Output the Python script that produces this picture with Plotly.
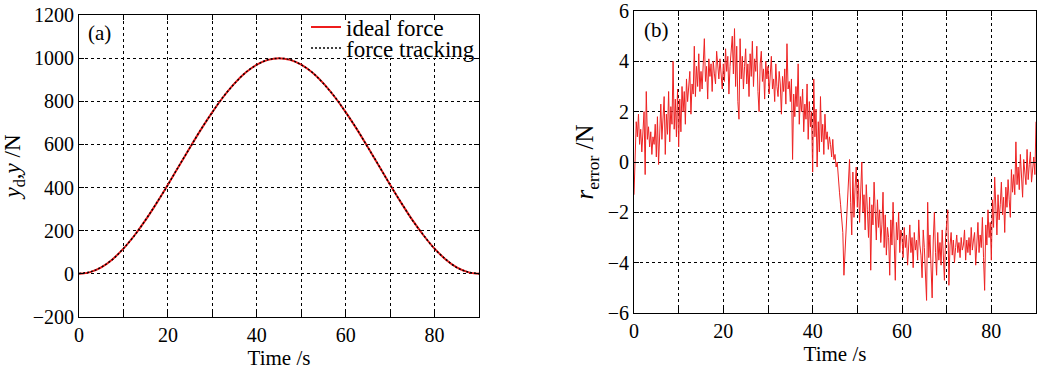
import numpy as np
import plotly.graph_objects as go

# ---------------- data ----------------
# (a) force curves, read every 2.5 s
t_a = [0, 2.5, 5, 7.5, 10, 12.5, 15, 17.5, 20, 22.5, 25, 27.5, 30, 32.5, 35, 37.5, 40, 42.5, 45,
       47.5, 50, 52.5, 55, 57.5, 60, 62.5, 65, 67.5, 70, 72.5, 75, 77.5, 80, 82.5, 85, 87.5, 90]
ideal_force = [0, 8, 30, 67, 117, 179, 250, 329, 413, 500, 587, 671, 750, 821, 883, 933, 970, 992, 1000,
               992, 970, 933, 883, 821, 750, 671, 587, 500, 413, 329, 250, 179, 117, 67, 30, 8, 0]
force_tracking = [2, 9, 31, 66, 118, 178, 251, 330, 412, 501, 586, 672, 749, 822, 882, 934, 969, 993, 999,
                  993, 969, 934, 882, 822, 749, 672, 586, 501, 412, 330, 249, 180, 116, 68, 29, 9, 1]

# (b) tracking error, read every 0.25 s
r_error = [
    -1.3, 0.8, 1.6, 1.0, 1.9, 0.7, 1.3, 0.4, 1.5, 2.0, -0.5, 2.8, 0.9, 1.4, 0.6, 1.2, 0.3, 1.0, 0.7, 1.5,
    0.2, 1.8, -0.1, 1.2, 2.3, 0.9, 1.6, 2.6, 0.3, 1.9, 1.1, 2.8, 0.8, 2.2, 1.5, 4.0, 1.3, 2.5, 1.0, 2.9,
    0.6, 2.5, 1.2, 3.0, 2.0, 2.8, 1.5, 3.3, 2.4, 2.9, 3.6, 1.9, 3.1, 2.7, 4.6, 2.6, 3.8, 3.0, 4.3, 2.8,
    3.6, 2.9, 4.0, 4.9, 3.2, 3.8, 2.5, 4.1, 3.4, 3.9, 2.8, 4.0, 3.5, 3.1, 4.4, 3.7, 3.3, 4.1, 3.6, 2.9,
    3.9, 3.2, 4.5, 3.6, 4.2, 2.7, 3.8, 4.4, 5.0, 3.5, 5.3, 3.0, 4.6, 2.4, 1.7, 4.9, 3.3, 4.2, 2.9, 3.8,
    4.5, 3.1, 3.9, 2.6, 4.3, 3.4, 4.8, 3.0, 4.1, 3.6, 4.6, 2.8, 2.0, 3.9, 4.4, 3.2, 3.7, 2.5, 4.0, 3.3,
    3.8, 2.7, 3.5, 4.2, 2.9, 3.3, 2.4, 3.9, 3.0, 2.6, 3.6, 3.1, 1.9, 3.4, 2.8, 3.7, 2.3, 4.7, 2.9, 3.2,
    2.4, 3.3, 0.1, 2.7, 1.8, 3.0, 2.2, 3.9, 1.5, 2.6, 2.0, 2.9, 1.2, 2.3, 1.7, 3.1, 0.9, 2.4, 1.4, 2.0,
    -0.4, 3.3, 1.0, 2.1, -0.2, 1.6, 0.4, 2.6, 0.8, 1.5, 0.3, 1.9, 0.9, 1.2, 0.5, 1.0, 0.7, 0.2, 0.9, 0.1,
    0.3, -0.2, 0.0, -0.8, -1.2, -1.7, -2.3, -2.8, -4.5, -3.6, -2.7, -2.0, -0.9, 0.1, -1.6, -2.9, -0.4, -2.2, -1.0, -0.2,
    -1.8, -0.7, -2.4, -1.1, 0.0, -2.0, -1.3, -2.7, -0.9, -1.9, -3.0, -1.4, -4.3, -1.7, -2.5, -0.8, -2.2, -3.1, -1.5, -2.6,
    -1.9, -3.2, -2.5, -1.2, -3.4, -2.1, -3.7, -2.6, -3.0, -4.5, -2.3, -3.3, -1.6, -2.8, -4.7, -2.4, -3.1, -2.0, -3.6, -2.7,
    -3.0, -3.8, -2.6, -3.4, -2.9, -4.1, -3.2, -2.5, -3.6, -3.0, -4.2, -2.8, -3.5, -3.1, -3.9, -2.3, -3.3, -3.7, -4.6, -2.7,
    -3.4, -4.8, -5.5, -1.6, -3.8, -2.9, -4.3, -5.4, -3.1, -2.0, -3.6, -4.5, -2.8, -3.9, -3.2, -4.1, -2.7, -3.5, -4.7, -3.0,
    -2.5, -1.9, -4.9, -3.3, -2.8, -3.7, -3.1, -4.0, -3.4, -2.9, -3.6, -3.2, -3.8, -3.0, -3.5, -3.3, -2.7, -3.9, -3.1, -3.6,
    -3.0, -3.7, -2.6, -3.5, -3.1, -2.8, -4.1, -3.2, -2.4, -3.6, -2.9, -3.4, -2.2, -3.8, -5.1, -2.5, -3.3, -1.9, -3.0, -2.4,
    -3.9, -1.5, -2.6, -0.6, -2.0, -2.9, -1.3, -2.3, -1.7, -0.8, -2.1, -1.4, -2.8, -1.0, -1.8, -0.7, -1.5, -2.2, -0.3, -1.2,
    -0.5, -1.3, 0.8, -0.9, -0.2, -1.1, 0.3, -0.6, -1.4, 0.1, -0.4, -0.9, 0.5, -0.7, -0.1, 0.4, -0.8, -0.3, 0.2, -0.5,
    1.6,
]
t_b = [i * 0.25 for i in range(len(r_error))]

x_ticks = [0, 10, 20, 30, 40, 50, 60, 70, 80, 90]
x_ticklabels = ["0", "", "20", "", "40", "", "60", "", "80", ""]
y_ticks_a = [-200, 0, 200, 400, 600, 800, 1000, 1200]
y_ticks_b = [-6, -4, -2, 0, 2, 4, 6]

# ---------------- layout helpers (pixel -> paper fraction) ----------------
W, H = 1040, 375
def px_x(p):
    return p / W
def px_y(p):
    return 1 - p / H

FONT = "Liberation Serif"
fig = go.Figure()

fig.add_trace(go.Scatter(x=t_a, y=ideal_force, mode="lines", name="ideal force",
                         line=dict(color="#ee1c1c", width=2, shape="spline"),
                         xaxis="x", yaxis="y", legend="legend"))
fig.add_trace(go.Scatter(x=t_a, y=force_tracking, mode="lines", name="force tracking",
                         line=dict(color="black", width=1.5, dash="2px,2px", shape="spline"),
                         xaxis="x", yaxis="y", legend="legend2"))
fig.add_trace(go.Scatter(x=t_b, y=r_error, mode="lines", showlegend=False,
                         line=dict(color="#ee2222", width=1),
                         xaxis="x2", yaxis="y2"))

axis_common = dict(
    showline=True, linecolor="black", linewidth=1, mirror="ticks",
    ticks="inside", ticklen=5, tickcolor="black",
    showgrid=True, gridcolor="black", griddash="3px,3px", gridwidth=1,
    zeroline=False, automargin=False, ticklabeloverflow="allow",
    tickfont=dict(family=FONT, size=20, color="black"),
)

legend_common = dict(xanchor="left", yanchor="middle", bgcolor="rgba(0,0,0,0)", borderwidth=0,
                     font=dict(family=FONT, size=23), itemwidth=30)

fig.update_layout(
    width=W, height=H,
    margin=dict(l=0, r=0, t=0, b=0),
    paper_bgcolor="white", plot_bgcolor="white",
    font=dict(family=FONT, color="black"),
    xaxis=dict(axis_common, domain=[px_x(79), px_x(479)], range=[0, 90],
               tickvals=x_ticks, ticktext=x_ticklabels, anchor="y",
               title=dict(text="Time /s", font=dict(family=FONT, size=21), standoff=0)),
    yaxis=dict(axis_common, domain=[px_y(317), px_y(15)], range=[-200, 1200],
               tickvals=y_ticks_a, anchor="x",
               title=dict(text="<i>y</i><sub>d</sub>,<i>y</i> /N", font=dict(family=FONT, size=23),
                          standoff=6)),
    xaxis2=dict(axis_common, domain=[px_x(634), px_x(1036)], range=[0, 90],
                tickvals=x_ticks, ticktext=x_ticklabels, anchor="y2",
                title=dict(text="Time /s", font=dict(family=FONT, size=21), standoff=0)),
    yaxis2=dict(axis_common, domain=[px_y(313), px_y(11)], range=[-6, 6],
                tickvals=y_ticks_b, anchor="x2",
                title=dict(text="<i>r</i><sub>error</sub> /N", font=dict(family=FONT, size=25),
                           standoff=6)),
    legend=dict(legend_common, x=px_x(306), y=px_y(27)),
    legend2=dict(legend_common, x=px_x(306), y=px_y(48)),
    shapes=[
        dict(type="rect", xref="paper", yref="paper", layer="above",
             x0=px_x(309), x1=px_x(478), y0=px_y(58), y1=px_y(21),
             fillcolor="white", line=dict(width=0)),
    ],
    annotations=[
        dict(text="(a)", x=px_x(86), y=px_y(19), xref="paper", yref="paper", xanchor="left",
             yanchor="top", showarrow=False, font=dict(family=FONT, size=21)),
        dict(text="(b)", x=px_x(642), y=px_y(16), xref="paper", yref="paper", xanchor="left",
             yanchor="top", showarrow=False, font=dict(family=FONT, size=21)),
    ],
)

fig.write_html("out.html", config={"displayModeBar": False},
               post_script="document.body.style.margin='0';")
